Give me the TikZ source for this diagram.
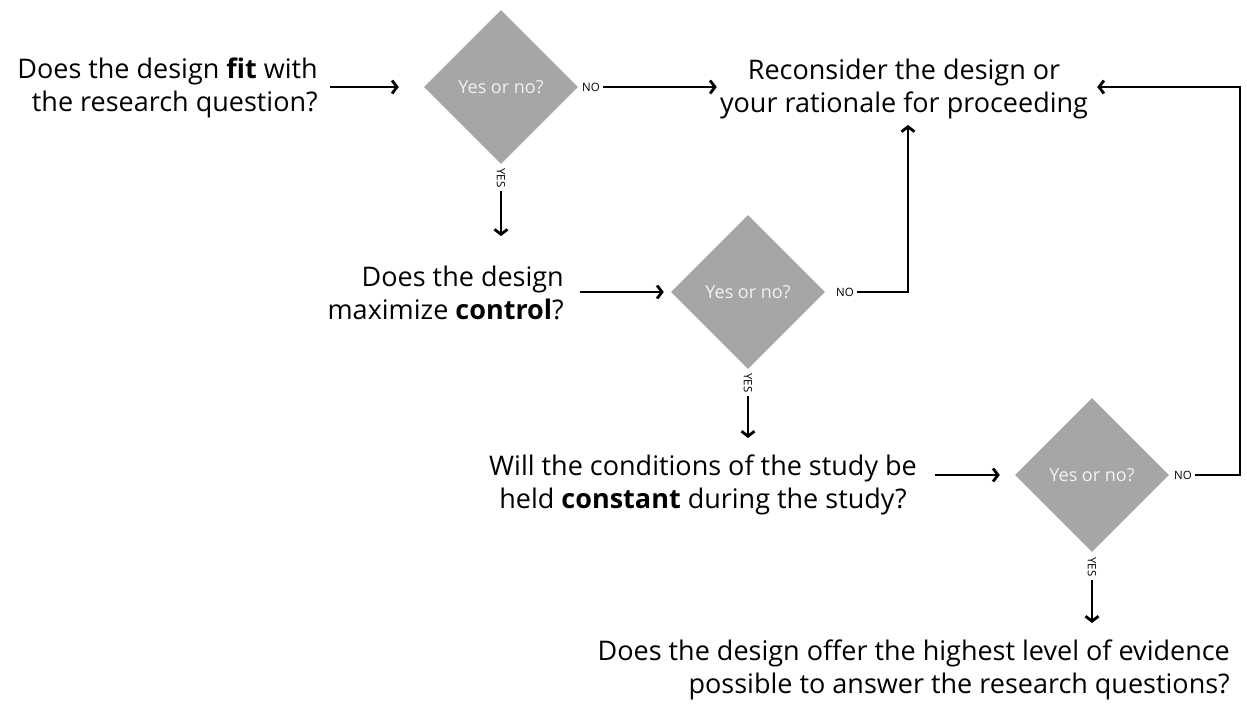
\documentclass[tikz,border=0pt]{standalone}
\usepackage{fontspec}
\setmainfont{Open Sans}
\usetikzlibrary{arrows.meta,shapes.geometric}
\definecolor{diamondgray}{HTML}{A6A6A6}
\definecolor{diamondtext}{HTML}{F2F2F2}

\begin{document}
\begin{tikzpicture}[x=1pt,y=-1pt,every node/.style={inner sep=0pt},
  question/.style={font=\fontsize{27}{32.5}\selectfont},
  decision/.style={diamond,aspect=1,minimum size=154pt,fill=diamondgray,text=diamondtext,font=\fontsize{18}{20}\selectfont},
  answer/.style={font=\fontsize{11.5}{12}\selectfont,inner sep=3pt},
  flow/.style={line width=2.8pt,-{Straight Barb[length=5pt,width=13pt]}}]

\useasboundingbox (0,0) rectangle (1247,707);

% questions
\node[question,align=right,anchor=east] (fit) at (318,88) {Does the design \textbf{fit} with\\the research question?};
\node[question,align=center] (rethink) at (904,89) {Reconsider the design or\\your rationale for proceeding};
\node[question,align=right,anchor=east] (control) at (564,293) {Does the design\\maximize \textbf{control}?};
\node[question,align=center] (constant) at (703,485) {Will the conditions of the study be\\held \textbf{constant} during the study?};
\node[question,align=right,anchor=east] (evidence) at (1230,670) {Does the design offer the highest level of evidence\\possible to answer the research questions?};

% decisions
\node[decision] (d1) at (501,87) {Yes or no?};
\node[decision] (d2) at (748,292) {Yes or no?};
\node[decision] (d3) at (1092,475) {Yes or no?};

\node[answer] (no1) at (591,87) {NO};
\node[answer] (no2) at (845,292) {NO};
\node[answer] (no3) at (1183,475) {NO};
\node[answer,rotate=-90] (yes1) at (501,178) {YES};
\node[answer,rotate=-90] (yes2) at (748,383) {YES};
\node[answer,rotate=-90] (yes3) at (1092,567) {YES};
\coordinate (corner) at (1240,475);

% connectors
\draw[flow,shorten <=12pt,shorten >=25pt] (fit.east |- d1.west) -- (d1.west);
\draw[flow,shorten <=16pt,shorten >=7pt] (control.east |- d2.west) -- (d2.west);
\draw[flow,shorten <=18pt,shorten >=15pt] (constant.east |- d3.west) -- (d3.west);
\draw[flow,shorten >=3pt] (no1.east) -- (no1.east -| rethink.west);
\draw[flow,shorten >=6pt] (no2.east) -| ([xshift=4pt]rethink.south);
\draw[flow,shorten >=9pt] (no3.east) -- (corner) |- (rethink.east |- d1.east);
\draw[flow,shorten >=30pt] (yes1.east) -- (yes1.east |- control.north);
\draw[flow,shorten >=17pt] (yes2.east) -- (yes2.east |- constant.north);
\draw[flow,shorten >=17pt] (yes3.east) -- (yes3.east |- evidence.north);
\end{tikzpicture}
\end{document}
